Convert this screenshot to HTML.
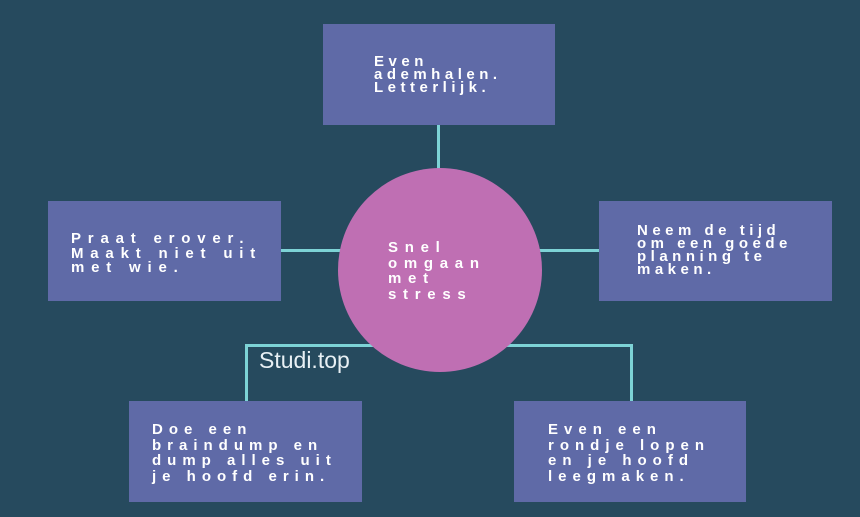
<!DOCTYPE html>
<html><head><style>
body{margin:0;width:860px;height:517px;background:#264a5e;position:relative;overflow:hidden;font-family:"Liberation Sans",sans-serif}
.b{position:absolute;background:#5f6aa7}
.t{position:absolute;color:#fff;font-weight:bold;font-size:15px;letter-spacing:4.5px;white-space:pre;line-height:13px}
.l{position:absolute;background:#7dd3d6}
</style></head><body>
<div class="l" style="left:437px;top:125px;width:3px;height:50px"></div>
<div class="l" style="left:281px;top:249px;width:60px;height:3px"></div>
<div class="l" style="left:538px;top:249px;width:62px;height:3px"></div>
<div class="l" style="left:245px;top:344px;width:388px;height:3px"></div>
<div class="l" style="left:245px;top:344px;width:3px;height:58px"></div>
<div class="l" style="left:630px;top:344px;width:3px;height:58px"></div>
<div style="position:absolute;left:338px;top:168px;width:204px;height:204px;border-radius:50%;background:#bf6fb3"></div>
<div class="b" style="left:323px;top:24px;width:232px;height:101px"></div>
<div class="b" style="left:48px;top:201px;width:233px;height:100px"></div>
<div class="b" style="left:599px;top:201px;width:233px;height:100px"></div>
<div class="b" style="left:129px;top:401px;width:233px;height:101px"></div>
<div class="b" style="left:514px;top:401px;width:232px;height:101px"></div>
<div class="t" style="left:374px;top:55px">Even
ademhalen.
Letterlijk.</div>
<div class="t" style="left:388px;top:240px;line-height:15.5px;letter-spacing:6.7px">Snel
omgaan
met
stress</div>
<div class="t" style="left:71px;top:232px;line-height:14.5px;letter-spacing:6.8px">Praat erover.
Maakt niet uit
met wie.</div>
<div class="t" style="left:637px;top:224px">Neem de tijd
om een goede
planning te
maken.</div>
<div class="t" style="left:152px;top:422px;line-height:15.5px;letter-spacing:6px">Doe een
braindump en
dump alles uit
je hoofd erin.</div>
<div class="t" style="left:548px;top:422px;line-height:15.5px;letter-spacing:6px">Even een
rondje lopen
en je hoofd
leegmaken.</div>
<div style="position:absolute;left:259px;top:347px;color:#e8f0f4;font-size:23px;font-weight:300">Studi.top</div>
</body></html>
